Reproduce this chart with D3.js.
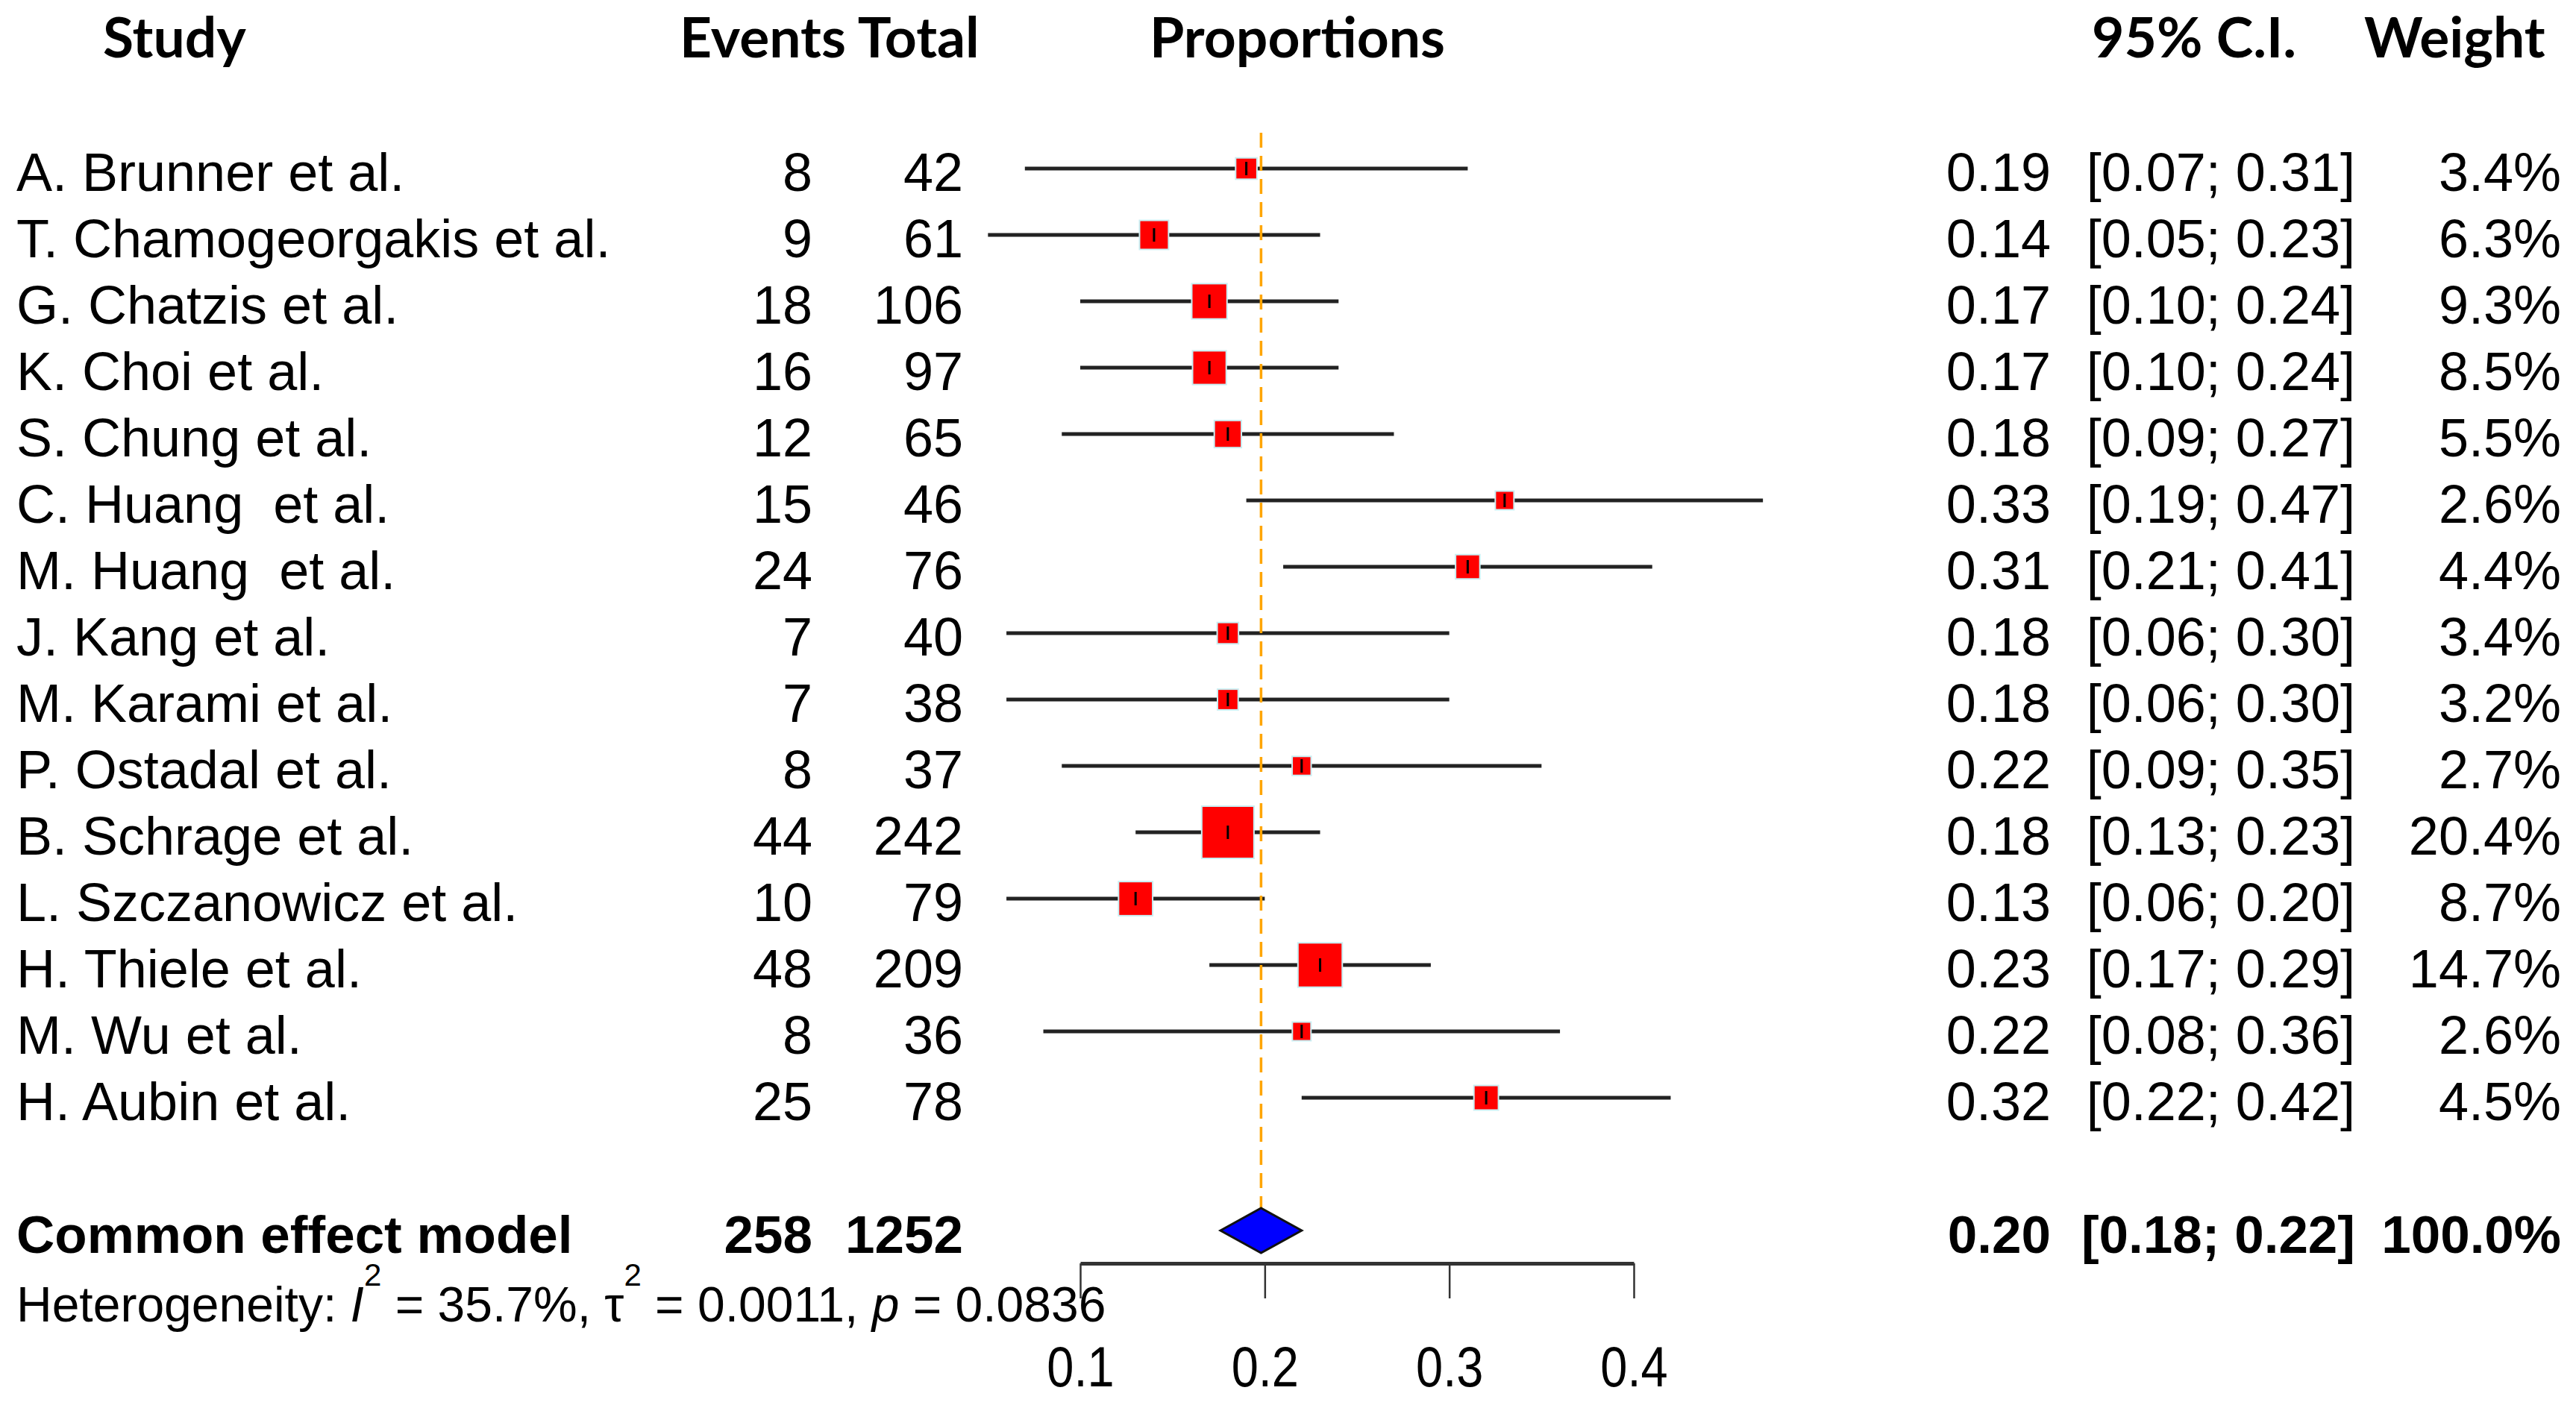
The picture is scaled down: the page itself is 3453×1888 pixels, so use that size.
<!DOCTYPE html>
<html>
<head>
<meta charset="utf-8">
<script src="https://cdn.jsdelivr.net/npm/d3@7"></script>
<style>
html, body { margin: 0; padding: 0; background: #fff; }
text { white-space: pre; }
</style>
</head>
<body>
<svg id="chart" width="3453" height="1888"></svg>
<script>
var studies = ['A. Brunner et al.', 'T. Chamogeorgakis et al.', 'G. Chatzis et al.', 'K. Choi et al.',
    'S. Chung et al.', 'C. Huang  et al.', 'M. Huang  et al.', 'J. Kang et al.', 'M. Karami et al.',
    'P. Ostadal et al.', 'B. Schrage et al.', 'L. Szczanowicz et al.', 'H. Thiele et al.',
    'M. Wu et al.', 'H. Aubin et al.'];
var events = [8, 9, 18, 16, 12, 15, 24, 7, 7, 8, 44, 10, 48, 8, 25];
var totals = [42, 61, 106, 97, 65, 46, 76, 40, 38, 37, 242, 79, 209, 36, 78];
var estimates = [0.19, 0.14, 0.17, 0.17, 0.18, 0.33, 0.31, 0.18, 0.18, 0.22, 0.18, 0.13, 0.23, 0.22, 0.32];
var lower = [0.07, 0.05, 0.10, 0.10, 0.09, 0.19, 0.21, 0.06, 0.06, 0.09, 0.13, 0.06, 0.17, 0.08, 0.22];
var upper = [0.31, 0.23, 0.24, 0.24, 0.27, 0.47, 0.41, 0.30, 0.30, 0.35, 0.23, 0.20, 0.29, 0.36, 0.42];
var weights = [3.4, 6.3, 9.3, 8.5, 5.5, 2.6, 4.4, 3.4, 3.2, 2.7, 20.4, 8.7, 14.7, 2.6, 4.5];

// common effect model (drawn position read from the diamond, labels as printed)
var pooled = {label: 'Common effect model', events: 258, total: 1252,
              est: 0.198, lower: 0.176, upper: 0.22,
              estText: '0.20', ciText: '[0.18; 0.22]', weightText: '100.0%'};
var axisTicks = [0.1, 0.2, 0.3, 0.4];

var body_font = '"Liberation Sans", Arial, sans-serif';
var head_font = 'Lato, "Open Sans", sans-serif';

var svg = d3.select('#chart');

var x = d3.scaleLinear().domain([0.1, 0.4]).range([1448, 2190]);
var y = d3.scalePoint().domain(d3.range(studies.length)).range([226, 1472]);
var pooled_y = 1650;
var axis_y = 1694;

// column anchors
var col = {name: 22, events: 1089, total: 1291, est: 2749, ci: 3157, weight: 3433};

var rows = studies.map(function (s, i) {
    return {name: s, events: events[i], total: totals[i], est: estimates[i],
            lower: lower[i], upper: upper[i], weight: weights[i]};
});

// headers
var headers = [
    {text: 'Study', x: 138},
    {text: 'Events Total', x: 911},
    {text: 'Proportions', x: 1541},
    {text: '95% C.I.', x: 2804},
    {text: 'Weight', x: 3169}
];
svg.selectAll('.header')
    .data(headers)
  .enter()
  .append('text')
    .attr('class', 'header')
    .attr('x', function (d) { return d.x; })
    .attr('y', 77)
    .attr('font-family', head_font)
    .attr('font-weight', 'bold')
    .attr('font-size', 75)
    .text(function (d) { return d.text; });

// confidence intervals
svg.selectAll('.ci-line')
    .data(rows)
  .enter()
  .append('line')
    .attr('class', 'ci-line')
    .attr('x1', function (d) { return x(d.lower); })
    .attr('x2', function (d) { return x(d.upper); })
    .attr('y1', function (_, i) { return y(i); })
    .attr('y2', function (_, i) { return y(i); })
    .attr('stroke', '#222')
    .attr('stroke-width', 5);

// reference line at pooled estimate
svg.append('line')
    .attr('x1', x(pooled.est))
    .attr('x2', x(pooled.est))
    .attr('y1', 178)
    .attr('y2', pooled_y - 30)
    .attr('stroke', '#FFA500')
    .attr('stroke-width', 3.5)
    .attr('stroke-dasharray', '20,11');

// weight squares
svg.selectAll('.box')
    .data(rows)
  .enter()
  .append('rect')
    .attr('class', 'box')
    .attr('x', function (d) { return x(d.est) - 7.75 * Math.sqrt(d.weight); })
    .attr('y', function (d, i) { return y(i) - 7.75 * Math.sqrt(d.weight); })
    .attr('width', function (d) { return 15.5 * Math.sqrt(d.weight); })
    .attr('height', function (d) { return 15.5 * Math.sqrt(d.weight); })
    .attr('fill', '#FF0000')
    .attr('stroke', '#c9eef2')
    .attr('stroke-width', 2);

svg.selectAll('.mark')
    .data(rows)
  .enter()
  .append('line')
    .attr('class', 'mark')
    .attr('x1', function (d) { return x(d.est); })
    .attr('x2', function (d) { return x(d.est); })
    .attr('y1', function (_, i) { return y(i) - 9; })
    .attr('y2', function (_, i) { return y(i) + 9; })
    .attr('stroke', '#000')
    .attr('stroke-width', 3);

// diamond
var diamond = [[pooled.lower, 0], [pooled.est, -30], [pooled.upper, 0], [pooled.est, 30]];
svg.append('path')
    .attr('d', d3.line()
        .x(function (d) { return x(d[0]); })
        .y(function (d) { return pooled_y + d[1]; })
        .curve(d3.curveLinearClosed)(diamond))
    .attr('fill', '#0000FF')
    .attr('stroke', '#111')
    .attr('stroke-width', 3);

// axis
var axis = d3.axisBottom(x)
    .tickValues(axisTicks)
    .tickSize(47)
    .tickSizeOuter(0)
    .tickFormat(d3.format('.1f'));
var ax = svg.append('g')
    .attr('transform', 'translate(0,' + axis_y + ')')
    .call(axis);
ax.select('.domain')
    .attr('stroke', '#333')
    .attr('stroke-width', 5);
ax.selectAll('.tick line')
    .attr('stroke', '#333')
    .attr('stroke-width', 2.5);
// tick labels in the reference are narrower and taller than plain Arial
ax.selectAll('.tick text')
    .attr('y', 165 / 1.18)
    .attr('dy', null)
    .attr('transform', 'scale(1,1.18)')
    .attr('fill', '#000')
    .attr('font-family', body_font)
    .attr('font-size', 65);

// row text
function column(cls, xpos, anchor, fmt) {
    svg.selectAll('.' + cls)
        .data(rows)
      .enter()
      .append('text')
        .attr('class', cls)
        .attr('x', xpos)
        .attr('y', function (_, i) { return y(i) + 30; })
        .attr('text-anchor', anchor)
        .attr('font-family', body_font)
        .attr('font-size', 72)
        .text(fmt);
}
column('txt-name', col.name, 'start', function (d) { return d.name; });
column('txt-events', col.events, 'end', function (d) { return d.events; });
column('txt-total', col.total, 'end', function (d) { return d.total; });
column('txt-est', col.est, 'end', function (d) { return d.est.toFixed(2); });
column('txt-ci', col.ci, 'end', function (d) {
    return '[' + d.lower.toFixed(2) + '; ' + d.upper.toFixed(2) + ']';
});
column('txt-weight', col.weight, 'end', function (d) { return d.weight.toFixed(1) + '%'; });

// pooled row
var pooled_cells = [
    {text: pooled.label, x: col.name, anchor: 'start'},
    {text: pooled.events, x: col.events, anchor: 'end'},
    {text: pooled.total, x: col.total, anchor: 'end'},
    {text: pooled.estText, x: col.est, anchor: 'end'},
    {text: pooled.ciText, x: col.ci, anchor: 'end'},
    {text: pooled.weightText, x: col.weight, anchor: 'end'}
];
svg.selectAll('.pooled')
    .data(pooled_cells)
  .enter()
  .append('text')
    .attr('class', 'pooled')
    .attr('x', function (d) { return d.x; })
    .attr('y', pooled_y + 30)
    .attr('text-anchor', function (d) { return d.anchor; })
    .attr('font-family', body_font)
    .attr('font-weight', 'bold')
    .attr('font-size', 71)
    .text(function (d) { return d.text; });

// heterogeneity
var het = svg.append('text')
    .attr('x', 22)
    .attr('y', 1772)
    .attr('font-family', body_font)
    .attr('font-size', 66);
het.append('tspan').text('Heterogeneity: ');
het.append('tspan').attr('font-style', 'italic').text('I');
het.append('tspan').attr('font-size', 42).attr('dy', -48).text('2');
het.append('tspan').attr('dy', 48).text(' = 35.7%, ');
het.append('tspan').text('\u03c4');
het.append('tspan').attr('font-size', 42).attr('dy', -48).text('2');
het.append('tspan').attr('dy', 48).text(' = 0.0011, ');
het.append('tspan').attr('font-style', 'italic').text('p');
het.append('tspan').text(' = 0.0836');
</script>
</body>
</html>
